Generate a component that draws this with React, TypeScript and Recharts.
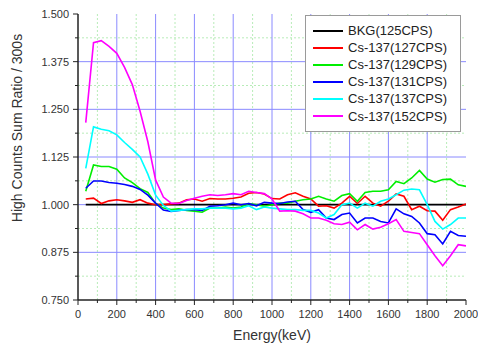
import { LineChart, Line, XAxis, YAxis, CartesianGrid, Legend } from "recharts";

const energy = [
  40, 80, 120, 160, 200, 240, 280, 320, 360, 400,
  440, 480, 520, 560, 600, 640, 680, 720, 760, 800,
  840, 880, 920, 960, 1000, 1040, 1080, 1120, 1160, 1200,
  1240, 1280, 1320, 1360, 1400, 1440, 1480, 1520, 1560, 1600,
  1640, 1680, 1720, 1760, 1800, 1840, 1880, 1920, 1960, 2000,
];

const bkg125 = [
  1.0, 1.0, 1.0, 1.0, 1.0, 1.0, 1.0, 1.0, 1.0, 1.0,
  1.0, 1.0, 1.0, 1.0, 1.0, 1.0, 1.0, 1.0, 1.0, 1.0,
  1.0, 1.0, 1.0, 1.0, 1.0, 1.0, 1.0, 1.0, 1.0, 1.0,
  1.0, 1.0, 1.0, 1.0, 1.0, 1.0, 1.0, 1.0, 1.0, 1.0,
  1.0, 1.0, 1.0, 1.0, 1.0, 1.0, 1.0, 1.0, 1.0, 1.0,
];

const cs127 = [
  1.015, 1.017, 1.003, 1.010, 1.013, 1.010, 1.006, 1.013, 1.004, 1.000,
  1.000, 1.002, 1.004, 1.013, 1.015, 1.009, 1.016, 1.015, 1.015, 1.017,
  1.020, 1.030, 1.032, 1.028, 1.016, 1.015, 1.026, 1.031, 1.022, 1.015,
  0.996, 0.997, 0.991, 1.004, 1.022, 1.003, 1.022, 1.004, 0.996, 1.009,
  1.028, 1.022, 0.987, 0.996, 0.984, 0.983, 0.959, 0.987, 0.994, 1.002,
];

const cs129 = [
  1.035, 1.104, 1.100, 1.100, 1.093, 1.070, 1.058, 1.042, 1.032, 1.003,
  0.991, 0.987, 0.989, 0.985, 0.983, 0.980, 0.991, 0.991, 0.994, 0.991,
  0.994, 1.003, 1.000, 0.996, 1.000, 1.004, 1.004, 1.009, 1.013, 1.015,
  1.022, 1.015, 1.009, 1.024, 1.029, 1.009, 1.032, 1.035, 1.035, 1.039,
  1.061, 1.055, 1.070, 1.090, 1.067, 1.059, 1.066, 1.067, 1.052, 1.048,
];

const cs131 = [
  1.043, 1.062, 1.062, 1.058, 1.056, 1.053, 1.048, 1.040, 1.025, 1.004,
  0.986, 0.982, 0.985, 0.987, 0.987, 0.985, 0.996, 0.997, 1.000, 1.004,
  1.000, 1.003, 0.997, 1.006, 1.004, 1.003, 1.007, 1.009, 0.987, 0.980,
  0.987, 0.965, 0.961, 0.974, 0.978, 0.952, 0.965, 0.965, 0.956, 0.952,
  0.989, 0.976, 0.969, 0.952, 0.924, 0.921, 0.897, 0.930, 0.919, 0.917,
];

const cs137 = [
  1.095, 1.204, 1.198, 1.194, 1.183, 1.163, 1.145, 1.125, 1.080, 1.025,
  0.998, 0.983, 0.985, 0.987, 0.989, 0.989, 0.991, 0.991, 0.991, 0.989,
  0.991, 0.997, 0.987, 0.994, 0.991, 0.989, 0.987, 0.987, 0.985, 0.985,
  0.978, 0.965, 0.974, 1.000, 1.004, 0.991, 1.004, 0.996, 1.009, 1.015,
  1.026, 1.038, 1.041, 1.039, 1.000, 0.956, 0.936, 0.948, 0.965, 0.965,
];

const cs152 = [
  1.215, 1.425, 1.430, 1.415, 1.397, 1.360, 1.315, 1.245, 1.165, 1.065,
  1.020, 1.004, 1.003, 1.011, 1.017, 1.022, 1.026, 1.024, 1.026, 1.029,
  1.026, 1.035, 1.032, 1.029, 1.015, 0.983, 0.984, 0.983, 0.976, 0.965,
  0.965, 0.959, 0.950, 0.948, 0.954, 0.934, 0.948, 0.936, 0.941, 0.950,
  0.961, 0.930, 0.927, 0.924, 0.895, 0.866, 0.840, 0.866, 0.895, 0.892,
];

const seriesKeys = ["bkg125", "cs127", "cs129", "cs131", "cs137", "cs152"];
const seriesNames = [
  "BKG(125CPS)",
  "Cs-137(127CPS)",
  "Cs-137(129CPS)",
  "Cs-137(131CPS)",
  "Cs-137(137CPS)",
  "Cs-137(152CPS)",
];
const seriesColors = ["#000000", "#ff0000", "#00ee00", "#0000ff", "#00ffff", "#ff00ff"];

const xTicks = [0, 100, 200, 300, 400, 500, 600, 700, 800, 900, 1000, 1100, 1200, 1300, 1400, 1500, 1600, 1700, 1800, 1900, 2000];
const xLabels = [0, 200, 400, 600, 800, 1000, 1200, 1400, 1600, 1800, 2000];
const xMajorGrid = [200, 400, 600, 800, 1000, 1200, 1400, 1600, 1800];
const xMinorGrid = [100, 300, 500, 700, 900, 1100, 1300, 1500, 1700, 1900];

const yTicks = [0.75, 0.8125, 0.875, 0.9375, 1.0, 1.0625, 1.125, 1.1875, 1.25, 1.3125, 1.375, 1.4375, 1.5];
const yLabels = [0.75, 0.875, 1.0, 1.125, 1.25, 1.375, 1.5];
const yMajorGrid = [0.875, 1.0, 1.125, 1.25, 1.375];
const yMinorGrid = [0.8125, 0.9375, 1.0625, 1.1875, 1.3125, 1.4375];

const series = [bkg125, cs127, cs129, cs131, cs137, cs152];
const data = energy.map((e, i) => {
  const row: Record<string, number> = { energy: e };
  seriesKeys.forEach((k, j) => {
    row[k] = series[j][i];
  });
  return row;
});

const FONT = "'Liberation Sans', Arial, sans-serif";
const AXIS = "#222";

const BottomTick = (props: any) => {
  const { x, y, payload } = props;
  const major = xLabels.includes(payload.value);
  return (
    <g>
      <line x1={x} y1={y} x2={x} y2={y + (major ? 5 : 3)} stroke={AXIS} strokeWidth={1} />
      {major && (
        <text x={x} y={y + 18} textAnchor="middle" fontSize={11} fontFamily={FONT} fill="#333">
          {payload.value}
        </text>
      )}
    </g>
  );
};

const TopTick = (props: any) => {
  const { x, y, payload } = props;
  const major = xLabels.includes(payload.value);
  return <line x1={x} y1={y} x2={x} y2={y + (major ? 5 : 3)} stroke={AXIS} strokeWidth={1} />;
};

const LeftTick = (props: any) => {
  const { x, y, payload } = props;
  const major = yLabels.includes(payload.value);
  return (
    <g>
      <line x1={x - (major ? 5 : 3)} y1={y} x2={x} y2={y} stroke={AXIS} strokeWidth={1} />
      {major && (
        <text x={x - 9} y={y + 4} textAnchor="end" fontSize={11} fontFamily={FONT} fill="#333">
          {payload.value.toFixed(3)}
        </text>
      )}
    </g>
  );
};

const RightTick = (props: any) => {
  const { x, y, payload } = props;
  const major = yLabels.includes(payload.value);
  return <line x1={x - (major ? 5 : 3)} y1={y} x2={x} y2={y} stroke={AXIS} strokeWidth={1} />;
};

const LegendBox = (props: any) => {
  const items = props.payload || [];
  return (
    <div
      style={{
        width: 154,
        background: "#fff",
        border: "1px solid #9a9a9a",
        padding: "6px 0 6px 0",
        fontFamily: FONT,
        fontSize: 13,
        color: "#222",
      }}
    >
      {items.map((it: any) => (
        <div key={it.value} style={{ display: "flex", alignItems: "center", height: 17.1 }}>
          <div style={{ width: 30, height: 2, background: it.color, marginLeft: 7, marginRight: 5 }} />
          <span style={{ whiteSpace: "nowrap", lineHeight: "17px" }}>{it.value}</span>
        </div>
      ))}
    </div>
  );
};

export default function App() {
  return (
    <div style={{ position: "absolute", left: 0, top: 0, width: 478, height: 345, background: "#fff", fontFamily: FONT }}>
      <LineChart width={478} height={345} data={data} margin={{ top: 14, right: 12, bottom: 0, left: 0 }}>
        <CartesianGrid
          horizontalValues={yMinorGrid}
          verticalValues={xMinorGrid}
          stroke="#b8ecb8"
          strokeDasharray="2 2"
          strokeWidth={1}
        />
        <CartesianGrid
          horizontalValues={yMajorGrid}
          verticalValues={xMajorGrid}
          stroke="#8a8aff"
          strokeWidth={1}
        />
        <XAxis
          dataKey="energy"
          type="number"
          domain={[0, 2000]}
          ticks={xTicks}
          interval={0}
          height={45}
          tickSize={0}
          tickMargin={0}
          tickLine={false}
          tick={BottomTick}
          axisLine={{ stroke: AXIS, strokeWidth: 1.5 }}
          allowDataOverflow
          label={{
            content: (p: any) => {
              const vb = p.viewBox || { x: 78, width: 388 };
              return (
                <text x={vb.x + vb.width / 2} y={340} textAnchor="middle" fontSize={14} fontFamily={FONT} fill="#333">
                  Energy(keV)
                </text>
              );
            },
          }}
        />
        <XAxis
          xAxisId="top"
          orientation="top"
          dataKey="energy"
          type="number"
          domain={[0, 2000]}
          ticks={xTicks}
          interval={0}
          height={0}
          tickSize={0}
          tickMargin={0}
          tickLine={false}
          tick={TopTick}
          axisLine={{ stroke: AXIS, strokeWidth: 1.2 }}
          allowDataOverflow
        />
        <YAxis
          type="number"
          domain={[0.75, 1.5]}
          ticks={yTicks}
          interval={0}
          width={78}
          tickSize={0}
          tickMargin={0}
          tickLine={false}
          tick={LeftTick}
          axisLine={{ stroke: AXIS, strokeWidth: 1.5 }}
          allowDataOverflow
          label={{
            content: (p: any) => {
              const vb = p.viewBox || { y: 14, height: 286 };
              const cy = vb.y + vb.height / 2 - 29;
              return (
                <text
                  x={22}
                  y={cy}
                  transform={`rotate(-90, 22, ${cy})`}
                  textAnchor="middle"
                  fontSize={14}
                  fontFamily={FONT}
                  fill="#333"
                >
                  High Counts Sum Ratio / 300s
                </text>
              );
            },
          }}
        />
        <YAxis
          yAxisId="right"
          orientation="right"
          type="number"
          domain={[0.75, 1.5]}
          ticks={yTicks}
          interval={0}
          width={0}
          tickSize={0}
          tickMargin={0}
          tickLine={false}
          tick={RightTick}
          axisLine={{ stroke: AXIS, strokeWidth: 1.2 }}
          allowDataOverflow
        />
        <Legend
          layout="horizontal"
          verticalAlign="middle"
          align="center"
          wrapperStyle={{ left: 305, top: 15, width: "auto", height: "auto" }}
          content={LegendBox}
        />
        {seriesKeys.map((k, i) => (
          <Line
            key={k}
            type="linear"
            dataKey={k}
            name={seriesNames[i]}
            stroke={seriesColors[i]}
            strokeWidth={1.6}
            dot={false}
            activeDot={false}
            isAnimationActive={false}
          />
        ))}
      </LineChart>
    </div>
  );
}
